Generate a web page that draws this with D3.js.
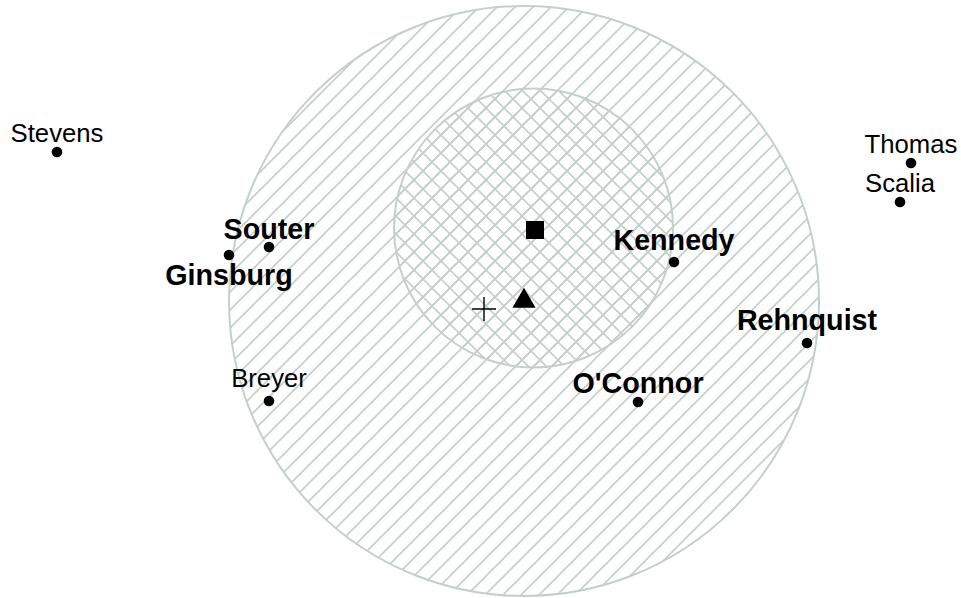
<!DOCTYPE html>
<html>
<head>
<meta charset="utf-8">
<script src="https://cdn.jsdelivr.net/npm/d3@7"></script>
<style>
  html, body { margin: 0; padding: 0; background: #fff; }
  svg { display: block; font-family: "Liberation Sans", Arial, sans-serif; }
</style>
</head>
<body>
<div id="chart"></div>
<script>
// datos: puntos ideales (unidades arbitrarias, origen en el centro del circulo grande)
const justices = ["Stevens", "Thomas", "Scalia", "Souter", "Ginsburg", "Kennedy", "Rehnquist", "Breyer", "O'Connor"];
const justiceX = [-4.67, 3.87, 3.76, -2.55, -2.95, 1.50, 2.83, -2.55, 1.14];
const justiceY = [1.49, 1.38, 0.99, 0.54, 0.46, 0.39, -0.42, -1.00, -1.01];
const boldNames = ["Souter", "Ginsburg", "Kennedy", "Rehnquist", "O'Connor"];

// circulos: grande y pequeño
const regionX = [0, 0.095];
const regionY = [0, 0.73];
const regionR = [2.95, 1.395];

// marcadores
const markerNames = ["square", "triangle", "plus"];
const markerX = [0.11, 0, -0.40];
const markerY = [0.71, 0, -0.08];

const W = 961, H = 598;
const HATCH = "#c4cfcc";
const PASO = 18;

// colocacion de etiquetas (desplazamiento vertical respecto al punto)
const labelDy = {
  "Stevens": -10, "Thomas": -10, "Scalia": -10, "Breyer": -14,
  "Souter": -8, "Ginsburg": 30, "Kennedy": -12, "Rehnquist": -12.7, "O'Connor": -8.7
};

const x = d3.scaleLinear().domain([-5, 4.5]).range([24, 974]);
const y = d3.scaleLinear().domain([-3, 3]).range([601, 1]);
const unit = x(1) - x(0);

const svg = d3.select("#chart").append("svg")
  .attr("width", W)
  .attr("height", H)
  .attr("viewBox", `0 0 ${W} ${H}`);

const defs = svg.append("defs");

const h = PASO / 4;
const diagUp = `M${-h},${h} L${h},${-h} M0,${PASO} L${PASO},0 M${PASO - h},${PASO + h} L${PASO + h},${PASO - h}`;
const diagDown = `M${-h},${PASO - h} L${h},${PASO + h} M0,0 L${PASO},${PASO} M${PASO - h},${-h} L${PASO + h},${h}`;

const p1 = defs.append("pattern")
  .attr("id", "hatch")
  .attr("patternUnits", "userSpaceOnUse")
  .attr("width", PASO).attr("height", PASO);
p1.append("path")
  .attr("d", diagUp)
  .attr("stroke", HATCH).attr("stroke-width", 1.6).attr("fill", "none");

const p2 = defs.append("pattern")
  .attr("id", "cross")
  .attr("patternUnits", "userSpaceOnUse")
  .attr("width", PASO).attr("height", PASO);
p2.append("path")
  .attr("d", diagUp + " " + diagDown)
  .attr("stroke", HATCH).attr("stroke-width", 1.6).attr("fill", "none");

const regiones = regionR.map((r, i) => ({ cx: regionX[i], cy: regionY[i], r, fill: i === 0 ? "hatch" : "cross" }));

svg.selectAll("circle.region")
  .data(regiones)
  .enter().append("circle")
  .attr("class", "region")
  .attr("cx", d => x(d.cx)).attr("cy", d => y(d.cy)).attr("r", d => d.r * unit)
  .attr("fill", d => `url(#${d.fill})`)
  .attr("stroke", HATCH)
  .attr("stroke-width", 2);

// marcadores
const simbolos = {
  square: d3.symbol().type(d3.symbolSquare).size(324)(),
  triangle: d3.symbol().type(d3.symbolTriangle).size(231)(),
  plus: d3.symbol().type(d3.symbolPlus).size(190)()
};

svg.selectAll("path.marker")
  .data(markerNames.map((m, i) => ({ m, x: markerX[i], y: markerY[i] })))
  .enter().append("path")
  .attr("class", "marker")
  .attr("transform", d => `translate(${x(d.x)},${y(d.y)})`)
  .attr("d", d => simbolos[d.m])
  .attr("fill", d => d.m === "plus" ? "none" : "#000")
  .attr("stroke", d => d.m === "plus" ? "#000" : "none")
  .attr("stroke-width", 1.4);

// jueces
const puntos = justices.map((n, i) => ({ n, x: justiceX[i], y: justiceY[i] }));

svg.selectAll("circle.dot")
  .data(puntos)
  .enter().append("circle")
  .attr("class", "dot")
  .attr("cx", d => x(d.x)).attr("cy", d => y(d.y))
  .attr("r", 5.3)
  .attr("fill", "#000");

svg.selectAll("text.label")
  .data(puntos)
  .enter().append("text")
  .attr("class", "label")
  .attr("x", d => x(d.x))
  .attr("y", d => y(d.y) + labelDy[d.n])
  .attr("text-anchor", "middle")
  .attr("font-size", d => boldNames.includes(d.n) ? "28.7px" : "25.7px")
  .attr("font-weight", d => boldNames.includes(d.n) ? "bold" : "normal")
  .attr("fill", "#000")
  .text(d => d.n);
</script>
</body>
</html>
